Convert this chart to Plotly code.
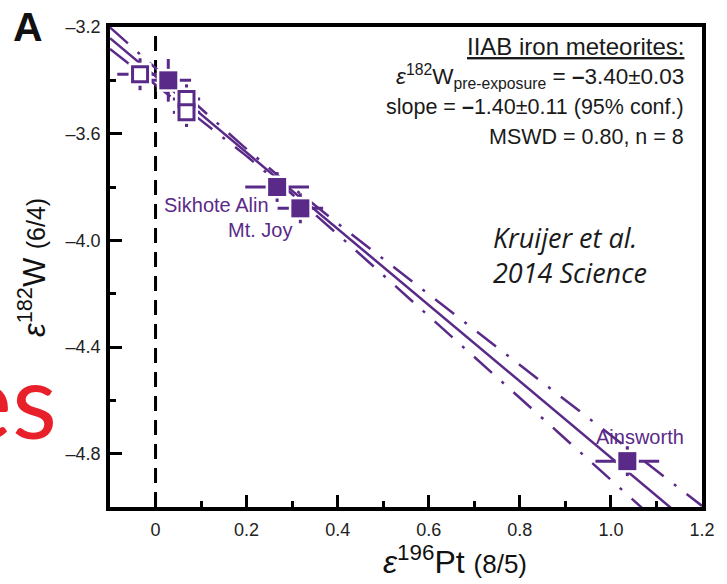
import numpy as np
import plotly.graph_objects as go

# ---- data ----
pt_x = [-0.034, 0.028, 0.068, 0.068, 0.267, 0.318, 1.036]
pt_y = [-3.377, -3.400, -3.470, -3.520, -3.800, -3.880, -4.828]
pt_xerr = [0.05, 0.05, 0.03, 0.03, 0.07, 0.05, 0.07]
pt_yerr = [0.06, 0.08, 0.055, 0.055, 0.056, 0.056, 0.056]
pt_filled = [False, True, False, False, True, True, True]
pt_labels = ["", "", "", "", "Sikhote Alin", "Mt. Joy", "Ainsworth"]

line_intercept = -3.385
line_slope = -1.43
intercept_err = 0.03
slope_err = 0.11

x_tickvals = [0, 0.2, 0.4, 0.6, 0.8, 1.0, 1.2]
x_ticktext = ["0", "0.2", "0.4", "0.6", "0.8", "1.0", "1.2"]
x_minor = [0.1, 0.3, 0.5, 0.7, 0.9, 1.1]
y_tickvals = [-3.2, -3.6, -4.0, -4.4, -4.8]
y_ticktext = ["–3.2", "–3.6", "–4.0", "–4.4", "–4.8"]
y_minor = [-3.4, -3.8, -4.2, -4.6]

PURPLE = "#5a2a88"
FONT = "Liberation Sans, Arial, sans-serif"

# plot-area pixel geometry
L, R, T, B = 110, 18, 27, 77
W, H = 727, 584
PW, PH = W - L - R, H - T - B


def px(x):
    return (x - L) / PW


def py(y):
    return (H - B - y) / PH


fig = go.Figure()

# regression line and confidence band
xx = np.linspace(-0.1, 1.2, 300)
xbar = float(np.mean(pt_x))
base = max(intercept_err ** 2 - (slope_err * xbar) ** 2, 0.0)
hw = np.sqrt(base + (slope_err * (xx - xbar)) ** 2)
yy = line_intercept + line_slope * xx
for sgn in (1, -1):
    fig.add_trace(go.Scatter(x=xx, y=yy + sgn * hw, mode="lines",
                             line=dict(color=PURPLE, width=2.5, dash="24px,13px,3px,13px"),
                             hoverinfo="skip", showlegend=False))
fig.add_trace(go.Scatter(x=xx, y=yy, mode="lines",
                         line=dict(color=PURPLE, width=2.5),
                         hoverinfo="skip", showlegend=False))

# error bars (drawn under the white halos)
fig.add_trace(go.Scatter(
    x=pt_x, y=pt_y, mode="markers",
    error_x=dict(type="data", array=pt_xerr, color=PURPLE, thickness=3, width=0),
    error_y=dict(type="data", array=pt_yerr, color=PURPLE, thickness=3, width=0),
    marker=dict(size=1, opacity=0), hoverinfo="skip", showlegend=False))

# white halos behind points
fig.add_trace(go.Scatter(x=pt_x, y=pt_y, mode="markers",
                         marker=dict(symbol="square", size=23, color="white"),
                         hoverinfo="skip", showlegend=False))

# points
for filled in (False, True):
    idx = [i for i, f in enumerate(pt_filled) if f == filled]
    fig.add_trace(go.Scatter(
        x=[pt_x[i] for i in idx], y=[pt_y[i] for i in idx], mode="markers",
        marker=dict(symbol="square", size=18 if filled else 15,
                    color=PURPLE if filled else "white",
                    line=dict(color=PURPLE, width=0 if filled else 3)),
        showlegend=False))

# vertical dashed zero line (under the data so halos interrupt it)
fig.add_shape(type="line", xref="x", yref="y", x0=0, x1=0, y0=-5.0, y1=-3.2, layer="below",
              line=dict(color="black", width=3, dash="15px,9px"))

annotations = []
# point labels
shifts = {"Sikhote Alin": (-6, -18, "right"), "Mt. Joy": (-6, -22, "right"), "Ainsworth": (13, 24, "center")}
for i, lab in enumerate(pt_labels):
    if lab:
        xs, ys, anc = shifts[lab]
        annotations.append(dict(x=pt_x[i], y=pt_y[i], xref="x", yref="y", text=lab, showarrow=False,
                                xanchor=anc, yanchor="middle", xshift=xs, yshift=ys,
                                font=dict(family=FONT, size=20, color=PURPLE)))

# stats text
stats = [
    ("<u>IIAB iron meteorites:</u>", 47, 24),
    ("<i>ε</i><sup>182</sup>W<sub>pre-exposure</sub> = <b>–</b>3.40±0.03", 77, 22.5),
    ("slope = <b>–</b>1.40±0.11 (95% conf.)", 107, 21.5),
    ("MSWD = 0.80, n = 8", 137, 21.5),
]
for txt, yy_, fs in stats:
    annotations.append(dict(x=px(693), y=py(yy_), xref="paper", yref="paper", text=txt, showarrow=False,
                            xanchor="right", yanchor="middle",
                            font=dict(family=FONT, size=fs, color="#1a1a1a")))

# citation
for txt, yy_ in (("<i>Kruijer et al.</i>", 237), ("<i>2014 Science</i>", 272)):
    annotations.append(dict(x=px(496), y=py(yy_), xref="paper", yref="paper", text=txt, showarrow=False,
                            xanchor="left", yanchor="middle",
                            font=dict(family="Open Sans, Lato, sans-serif", size=27, color="#1a1a1a")))

# panel letter
annotations.append(dict(x=px(27), y=py(27), xref="paper", yref="paper", text="<b>A</b>", showarrow=False,
                        xanchor="center", yanchor="middle",
                        font=dict(family=FONT, size=41, color="#111")))

# axis titles
annotations.append(dict(x=px(31), y=py(267), xref="paper", yref="paper", textangle=-90,
                        text="<i>ε</i><sup>182</sup>W <span style='font-size:25px'>(6/4)</span>",
                        showarrow=False, xanchor="center", yanchor="middle",
                        font=dict(family=FONT, size=31, color="#111")))
annotations.append(dict(x=px(459), y=py(560), xref="paper", yref="paper",
                        text="<i>ε</i><sup>196</sup>Pt <span style='font-size:26px'>(8/5)</span>",
                        showarrow=False, xanchor="center", yanchor="middle",
                        font=dict(family=FONT, size=32, color="#111")))

# slide overlay fragment
annotations.append(dict(x=px(58), y=py(398), xref="paper", yref="paper", text="es", showarrow=False,
                        xanchor="right", yanchor="middle",
                        font=dict(family="Lato, Open Sans, sans-serif", size=104, color="#e8202a")))

fig.update_layout(
    width=W, height=H,
    margin=dict(l=L, r=R, t=T, b=B),
    paper_bgcolor="white", plot_bgcolor="white",
    showlegend=False,
    annotations=annotations,
    xaxis=dict(range=[-0.1, 1.2], tickvals=x_tickvals, ticktext=x_ticktext,
               ticks="inside", ticklen=12, tickwidth=3, tickcolor="black",
               showline=True, mirror=True, linewidth=3.5, linecolor="black",
               showgrid=False, zeroline=False, ticklabelstandoff=4,
               tickfont=dict(family=FONT, size=18, color="#222"),
               minor=dict(tickvals=x_minor, ticks="inside", ticklen=6, tickwidth=3, tickcolor="black", showgrid=False)),
    yaxis=dict(range=[-5.0, -3.2], tickvals=y_tickvals, ticktext=y_ticktext,
               ticks="inside", ticklen=12, tickwidth=3, tickcolor="black",
               showline=True, mirror=True, linewidth=3.5, linecolor="black",
               showgrid=False, zeroline=False, ticklabelstandoff=2,
               tickfont=dict(family=FONT, size=18, color="#222"),
               minor=dict(tickvals=y_minor, ticks="inside", ticklen=6, tickwidth=3, tickcolor="black", showgrid=False)),
)

fig.write_html("out.html")
